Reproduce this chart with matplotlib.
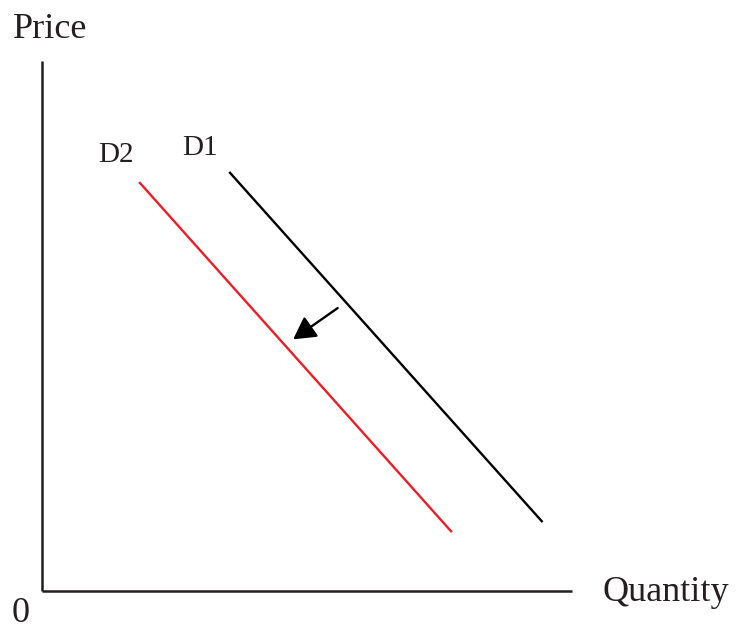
import matplotlib
matplotlib.use('Agg')
import matplotlib.pyplot as plt

plt.rcParams['font.family'] = ['Liberation Serif', 'DejaVu Serif']

# demand curves (quantity, price), arbitrary units, axes run 0..10
d1_q = [3.55, 9.43]
d1_p = [7.89, 1.32]
d2_q = [1.85, 7.72]
d2_p = [7.70, 1.13]

# shift arrow: from -> to
shift_from = (5.58, 5.34)
shift_to = (4.74, 4.75)

axis_len = 10.0

fig = plt.figure(figsize=(7.49, 6.32), dpi=100, facecolor='white')
ax = fig.add_axes([0, 0, 1, 1])
ax.set_xlim(-0.79, 13.34)
ax.set_ylim(-0.77, 11.15)
ax.axis('off')

# axes
ax.plot([0, 0], [0, axis_len], color='#231f20', lw=1.8, solid_capstyle='butt')
ax.plot([0, axis_len], [0, 0], color='#231f20', lw=1.8, solid_capstyle='butt')

ax.plot(d1_q, d1_p, color='black', lw=1.7)
ax.plot(d2_q, d2_p, color='#ee1c24', lw=1.7)

ax.annotate('', xy=shift_to, xytext=shift_from,
            arrowprops=dict(arrowstyle='-|>,head_length=0.45,head_width=0.25',
                            color='black', lw=1.7,
                            mutation_scale=30, shrinkA=0, shrinkB=0))

ax.text(0.15, 10.6, 'Price', fontsize=26, ha='center', va='center', color='#231f20')
ax.text(10.58, -0.02, 'Quantity', fontsize=26, ha='left', va='center', color='#231f20')
ax.text(-0.40, -0.42, '0', fontsize=26, ha='center', va='center', color='#231f20')
ax.text(1.40, 8.23, 'D2', fontsize=21, ha='center', va='center', color='#231f20')
ax.text(2.98, 8.36, 'D1', fontsize=21, ha='center', va='center', color='#231f20')

fig.savefig('out.png', dpi=100, facecolor='white')
